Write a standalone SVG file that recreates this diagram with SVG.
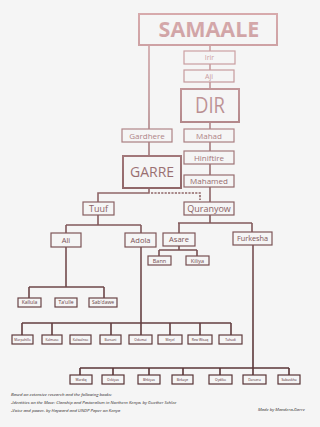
<svg xmlns="http://www.w3.org/2000/svg" width="320" height="427" viewBox="0 0 320 427">
<defs>
<linearGradient id="g" gradientUnits="userSpaceOnUse" x1="0" y1="10" x2="0" y2="390">
<stop offset="0" stop-color="#d8abad"/>
<stop offset="0.25" stop-color="#bd9295"/>
<stop offset="0.45" stop-color="#946a6c"/>
<stop offset="0.6" stop-color="#7c5456"/>
<stop offset="0.8" stop-color="#654042"/>
<stop offset="1" stop-color="#563234"/>
</linearGradient>
<style>
.b{fill:none;stroke:url(#g);stroke-width:1.2}
.b2{fill:none;stroke:url(#g);stroke-width:2}
.t{font-family:"Open Sans","Liberation Sans",sans-serif;fill:url(#g);text-anchor:middle}
.c{fill:none;stroke:url(#g);stroke-width:1.6}
.d{fill:none;stroke:url(#g);stroke-width:1.6;stroke-dasharray:2.2 1.2}
.n{font-family:"Open Sans","Liberation Sans",sans-serif;font-style:italic;font-size:4.3px;fill:#2e2828}
</style>
</defs>
<rect width="320" height="427" fill="#f5f5f5"/>
<g id="connectors">
<path class="c" d="M210 45V51M210 64V70M210 82V89M210 122V129M210 142V151M210 164V175M210 187V202M149 45V129M149 142V156M149 188V193H98V202M98 215V225M66 225H141M66 225V233M141 225V233M210 215V223M178 223H252M179 223V233M252 223V232M179 246V250M159 250H197M159 250V256M197 250V256M66 247V287M29 287H104M29 287V298M104 287V298M141 247V335M22 323H231M22 323V335M52 323V335M111 323V335M170 323V335M200 323V335M231 323V335M253 245V375M80 368H289M80 368V375M113 368V375M149 368V375M183 368V375M220 368V375M289 368V375"/>
<path class="d" d="M151 193H200V200"/>
</g>
<g id="samaale"><rect class="b2" x="139" y="14" width="138" height="31"/><text class="t" x="209" y="37" font-size="21.5" font-weight="bold">SAMAALE</text></g>
<g id="irir"><rect class="b" x="184" y="51" width="51" height="13"/><text class="t" x="209.5" y="60" font-size="7">Irir</text></g>
<g id="aji"><rect class="b" x="184" y="70" width="50" height="12"/><text class="t" x="209" y="78.5" font-size="7">Aji</text></g>
<g id="dir"><rect class="b2" x="181" y="89" width="58" height="33"/><text class="t" x="210" y="113" font-size="21" textLength="30" lengthAdjust="spacingAndGlyphs">DIR</text></g>
<g id="gardhere"><rect class="b" x="122" y="129" width="50" height="13"/><text class="t" x="147" y="138.5" font-size="8">Gardhere</text></g>
<g id="mahad"><rect class="b" x="184" y="129" width="50" height="13"/><text class="t" x="209" y="138.5" font-size="8">Mahad</text></g>
<g id="hiniftire"><rect class="b" x="184" y="151" width="50" height="13"/><text class="t" x="209" y="160.5" font-size="8">Hiniftire</text></g>
<g id="garre"><rect class="b2" x="123" y="156" width="58" height="32"/><text class="t" x="152" y="176.5" font-size="14">GARRE</text></g>
<g id="mahamed"><rect class="b" x="184" y="175" width="50" height="12"/><text class="t" x="209" y="184" font-size="8">Mahamed</text></g>
<g id="tuuf"><rect class="b" x="83" y="202" width="31" height="13" stroke-width="1.5"/><text class="t" x="98.5" y="212" font-size="9">Tuuf</text></g>
<g id="quranyow"><rect class="b" x="184" y="202" width="50" height="13" stroke-width="1.5"/><text class="t" x="209" y="212" font-size="9">Quranyow</text></g>
<g id="ali"><rect class="b" x="51" y="233" width="30" height="14" stroke-width="1.5"/><text class="t" x="66" y="242.7" font-size="7.5">Ali</text></g>
<g id="adola"><rect class="b" x="125" y="233" width="31" height="14" stroke-width="1.5"/><text class="t" x="140.5" y="242.7" font-size="7.5">Adola</text></g>
<g id="asare"><rect class="b" x="163" y="233" width="32" height="13" stroke-width="1.5"/><text class="t" x="179" y="242.2" font-size="7.5">Asare</text></g>
<g id="furkesha"><rect class="b" x="233" y="232" width="39" height="13" stroke-width="1.5"/><text class="t" x="252.5" y="241.2" font-size="7.3">Furkesha</text></g>
<g id="bann"><rect class="b" x="148" y="256" width="23" height="9"/><text class="t" x="159.5" y="262.5" font-size="5.5">Bann</text></g>
<g id="kiliya"><rect class="b" x="186" y="256" width="23" height="9"/><text class="t" x="197.5" y="262.5" font-size="5.5">Kiliya</text></g>
<g id="kallula"><rect class="b" x="18" y="298" width="23" height="9"/><text class="t" x="29.5" y="304.3" font-size="5">Kallula</text></g>
<g id="taulle"><rect class="b" x="55" y="298" width="22" height="9"/><text class="t" x="66" y="304.3" font-size="5">Ta'ulle</text></g>
<g id="sabdawe"><rect class="b" x="89" y="298" width="28" height="9"/><text class="t" x="103" y="304.3" font-size="5">Sab'dawe</text></g>
<g id="marpahillo"><rect class="b" x="12" y="335" width="21" height="9"/><text class="t" x="22.5" y="340.8" font-size="3.3">Marpahillo</text></g>
<g id="kalmaso"><rect class="b" x="42" y="335" width="20" height="9"/><text class="t" x="52" y="340.8" font-size="3.3">Kalmaso</text></g>
<g id="kalwalnso"><rect class="b" x="70" y="335" width="21" height="9"/><text class="t" x="80.5" y="340.8" font-size="3.3">Kalwalnso</text></g>
<g id="bursani"><rect class="b" x="100" y="335" width="21" height="9"/><text class="t" x="110.5" y="340.8" font-size="3.3">Bursani</text></g>
<g id="odomai"><rect class="b" x="129" y="335" width="23" height="9"/><text class="t" x="140.5" y="340.8" font-size="3.3">Odomai</text></g>
<g id="meyel"><rect class="b" x="158" y="335" width="24" height="9"/><text class="t" x="170" y="340.8" font-size="3.3">Meyel</text></g>
<g id="rewwisaq"><rect class="b" x="188" y="335" width="24" height="9"/><text class="t" x="200" y="340.8" font-size="3.3">Rew Wisaq</text></g>
<g id="tuhadi"><rect class="b" x="219" y="335" width="23" height="9"/><text class="t" x="230.5" y="340.8" font-size="3.3">Tuhadi</text></g>
<g id="wardiq"><rect class="b" x="70" y="375" width="22" height="9"/><text class="t" x="81" y="380.8" font-size="3.3">Wardiq</text></g>
<g id="ockiyas"><rect class="b" x="102" y="375" width="22" height="9"/><text class="t" x="113" y="380.8" font-size="3.3">Ockiyas</text></g>
<g id="bhkiyas"><rect class="b" x="138" y="375" width="22" height="9"/><text class="t" x="149" y="380.8" font-size="3.3">Bhkiyas</text></g>
<g id="birkaye"><rect class="b" x="172" y="375" width="21" height="9"/><text class="t" x="182.5" y="380.8" font-size="3.3">Birkaye</text></g>
<g id="oydiko"><rect class="b" x="209" y="375" width="23" height="9"/><text class="t" x="220.5" y="380.8" font-size="3.3">Oydiko</text></g>
<g id="daroera"><rect class="b" x="243" y="375" width="23" height="9"/><text class="t" x="254.5" y="380.8" font-size="3.3">Daroera</text></g>
<g id="subuskha"><rect class="b" x="278" y="375" width="22" height="9"/><text class="t" x="289" y="380.8" font-size="3.3">Subuskha</text></g>
<g id="notes">
<text class="n" x="11" y="395.5">Based on extensive research  and the following books:</text>
<text class="n" x="11" y="403.5">-Identities on the Move: Clanship and Pastoralism in Northern Kenya, by Guether Schlee</text>
<text class="n" x="11" y="411.5">-Voice and power, by Hayward and UNDP Paper on Kenya</text>
<text class="n" x="258" y="410.5">Made by Mandera-Garre</text>
</g>
</svg>
